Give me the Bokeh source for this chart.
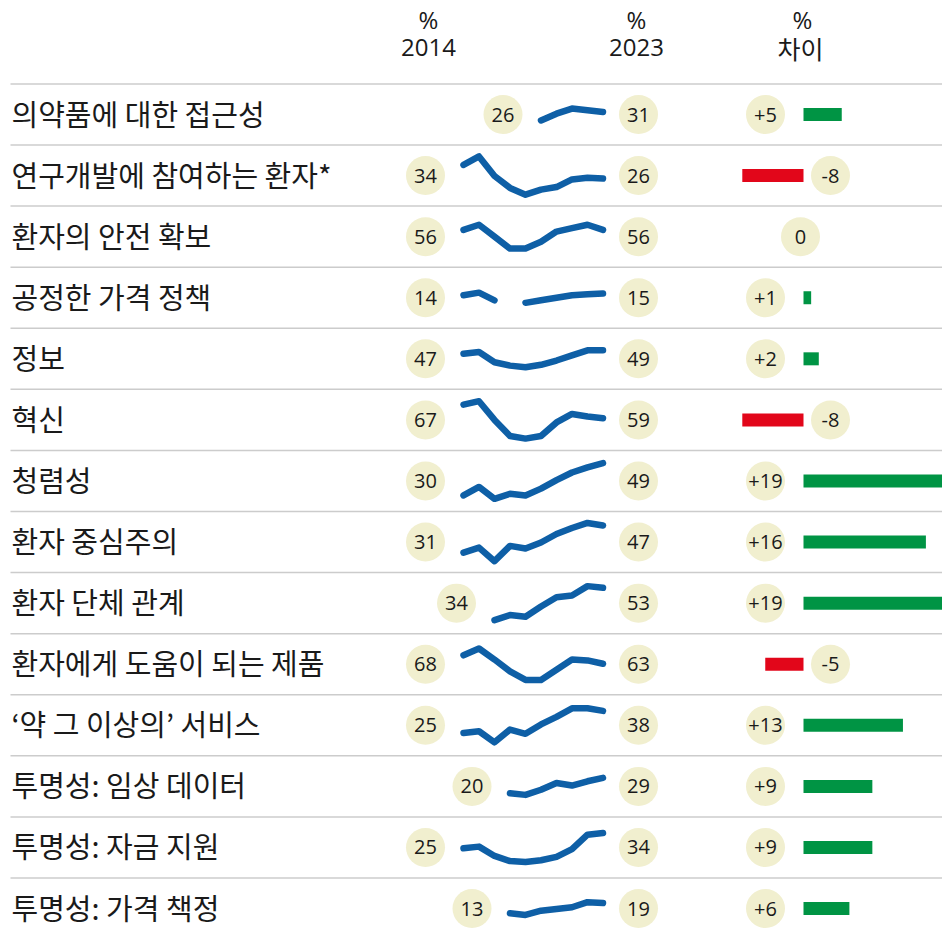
import math
from bokeh.plotting import figure
from bokeh.models import Range1d, ColumnDataSource
from bokeh.core.properties import value
from bokeh.embed import file_html
from bokeh.resources import INLINE

NaN = float("nan")

# ---------------- data ----------------
years = list(range(2014, 2024))

labels = [
    "의약품에 대한 접근성",
    "연구개발에 참여하는 환자*",
    "환자의 안전 확보",
    "공정한 가격 정책",
    "정보",
    "혁신",
    "청렴성",
    "환자 중심주의",
    "환자 단체 관계",
    "환자에게 도움이 되는 제품",
    "‘약 그 이상의’ 서비스",
    "투명성: 임상 데이터",
    "투명성: 자금 지원",
    "투명성: 가격 책정",
]

first_values = [26, 34, 56, 14, 47, 67, 30, 31, 34, 68, 25, 20, 25, 13]
last_values = [31, 26, 56, 15, 49, 59, 49, 47, 53, 63, 38, 29, 34, 19]
diff_values = [5, -8, 0, 1, 2, -8, 19, 16, 19, -5, 13, 9, 9, 6]

s_access = [NaN, NaN, NaN, NaN, NaN, 26, 30, 33, 32, 31]
s_rnd = [34, 39, 27.5, 20.5, 16.5, 19.5, 21, 25.5, 26.5, 26]
s_safety = [56, 59, 52, 45, 45, 49, 55, 57, 59, 56]
s_pricing_policy = [14, 15.5, 11, NaN, 9.5, 11, 12.5, 14, 14.5, 15]
s_information = [47, 48, 42, 40, 39, 40.5, 43, 46, 49, 49]
s_innovation = [67, 69, 58, 48.5, 47, 48.5, 56.5, 61.5, 60, 59]
s_integrity = [30, 35, 28, 31, 30, 34, 39, 43.5, 46.5, 49]
s_centricity = [31, 34, 26, 35, 33.5, 37, 42, 45.5, 48.5, 47]
s_pag = [NaN, NaN, 34, 37, 36, 42, 47.5, 48.5, 54, 53]
s_products = [68, 72, 65.5, 58.5, 53.5, 53.5, 59.5, 65.5, 65, 63]
s_beyond = [25, 26, 19.5, 27, 24.5, 30, 34.5, 39.5, 39.5, 38]
s_clinical = [NaN, NaN, NaN, 20, 19, 22, 26, 24.5, 27, 29]
s_funding = [25, 26, 20.5, 17.5, 17, 18, 20, 24.5, 33, 34]
s_pricing = [NaN, NaN, NaN, 13, 12, 14.5, 15.5, 16.5, 19.5, 19]

series = [s_access, s_rnd, s_safety, s_pricing_policy, s_information,
          s_innovation, s_integrity, s_centricity, s_pag, s_products,
          s_beyond, s_clinical, s_funding, s_pricing]

# ---------------- layout / style ----------------
W, H = 942, 936
X0, Y0 = 0, 0
ROW0, PITCH = 114, 61.08
SPARK_X0, SPARK_STEP = 463, 15.5
VAL_PX = 1.7
LEFT_GAP = 38
RIGHT_CX = 638
DIFF_ZERO, DIFF_PX = 803, 7.65
POS_CX, NEG_CX, ZERO_CX = 765, 830, 800

BLUE = "#0e5fa6"
CREAM = "#f1efcf"
GREEN = "#009444"
RED = "#e2061a"
GRID = "#cccccc"
INK = "#1a1a1a"
KFONT = value("Noto Sans CJK KR")
NFONT = value("Open Sans")

p = figure(width=W, height=H,
           x_range=Range1d(X0, X0 + W), y_range=Range1d(Y0 + H, Y0),
           output_backend="svg", toolbar_location=None,
           x_axis_type=None, y_axis_type=None, min_border=0,
           background_fill_color="white", border_fill_color="white")
p.outline_line_color = None
p.grid.visible = False

p.extra_x_ranges = {
    "years": Range1d(2014 - (SPARK_X0 - X0) / SPARK_STEP,
                     2014 + (X0 + W - SPARK_X0) / SPARK_STEP),
    "diff": Range1d(-(DIFF_ZERO - X0) / DIFF_PX, (X0 + W - DIFF_ZERO) / DIFF_PX),
}

n = len(labels)
centers = [ROW0 + i * PITCH for i in range(n)]

# separators
seps = [c - PITCH / 2 for c in centers]
p.segment(x0=[10] * n, x1=[942] * n, y0=seps, y1=seps,
          line_color=GRID, line_width=1.5)

# header
p.text(x=[428, 428, 636, 636, 802], y=[19, 47, 19, 47, 19],
       text=["%", "2014", "%", "2023", "%"], text_font=NFONT,
       text_font_size="24px", text_align="center", text_baseline="middle",
       text_color=INK)
p.text(x=[800], y=[47], text=["차이"], text_font=KFONT,
       text_font_size="25px", text_align="center", text_baseline="middle",
       text_color=INK)

# labels
p.text(x=[11] * n, y=[c - 2 for c in centers], text=labels, text_font=KFONT,
       text_font_size="29px", text_align="left", text_baseline="middle",
       text_color=INK)

# sparklines, each row on its own value range centred on the row
yr_ranges = {}
for i, s in enumerate(series):
    vals = [v for v in s if not math.isnan(v)]
    mid = (max(vals) + min(vals)) / 2
    c = centers[i]
    yr_ranges[f"r{i}"] = Range1d(mid - (Y0 + H - c) / VAL_PX, mid + (c - Y0) / VAL_PX)
p.extra_y_ranges = yr_ranges
for i, s in enumerate(series):
    p.line(x=years, y=s, x_range_name="years", y_range_name=f"r{i}",
           line_color=BLUE, line_width=6.5, line_cap="round", line_join="round")

# value circles
left_x = []
for s in series:
    first = next(k for k, v in enumerate(s) if not math.isnan(v))
    left_x.append(SPARK_X0 + (years[first] - 2014) * SPARK_STEP - LEFT_GAP)
diff_x = [POS_CX if d > 0 else (NEG_CX if d < 0 else ZERO_CX) for d in diff_values]
diff_txt = [f"+{d}" if d > 0 else str(d) for d in diff_values]

cx = left_x + [RIGHT_CX] * n + diff_x
cy = centers * 3
ct = [str(v) for v in first_values] + [str(v) for v in last_values] + diff_txt
p.scatter(x=cx, y=cy, size=39, marker="circle", fill_color=CREAM, line_color=None)
p.text(x=cx, y=cy, text=ct, text_font=NFONT, text_font_size="20px",
       text_align="center", text_baseline="middle", text_color=INK)

# difference bars
bar_src = ColumnDataSource(dict(
    y=centers, right=diff_values,
    color=[GREEN if d > 0 else RED for d in diff_values]))
p.hbar(y="y", left=0, right="right", height=13, source=bar_src,
       x_range_name="diff", fill_color="color", line_color=None)

open("out.html", "w").write(file_html(p, INLINE))
